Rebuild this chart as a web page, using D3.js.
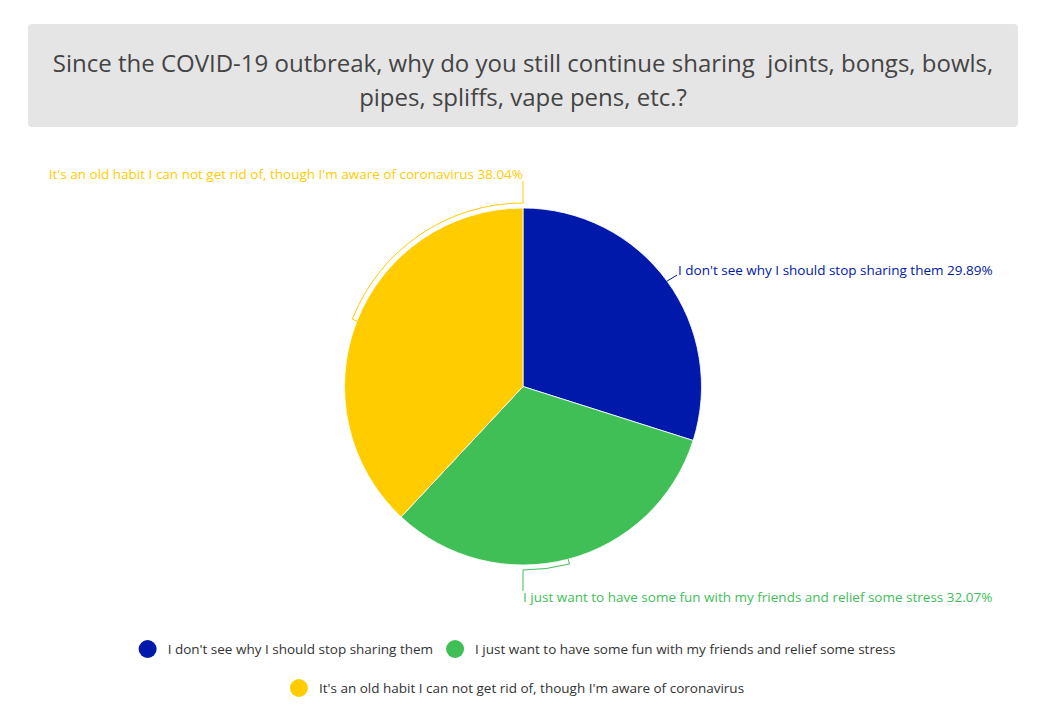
<!DOCTYPE html>
<html><head><meta charset="utf-8">
<script src="https://cdn.jsdelivr.net/npm/d3@7"></script>
<style>
html,body{margin:0;padding:0;background:#fff;}
svg{display:block;font-family:"Open Sans",sans-serif;}
</style></head>
<body>
<svg id="chart" width="1046" height="725"></svg>
<script>
const titleLines = ["Since the COVID-19 outbreak, why do you still continue sharing\u00a0 joints, bongs, bowls,", "pipes, spliffs, vape pens, etc.?"];
const categories = ["I don't see why I should stop sharing them", "I just want to have some fun with my friends and relief some stress", "It's an old habit I can not get rid of, though I'm aware of coronavirus"];
const values = [29.89, 32.07, 38.04];
const colors = ["#0019aa", "#41bf57", "#ffcc00"];

const svg = d3.select("#chart");

// title box
svg.append("rect").attr("x", 28).attr("y", 24).attr("width", 990).attr("height", 103)
  .attr("rx", 4).attr("fill", "#e5e5e5");
svg.selectAll("text.title").data(titleLines).join("text").attr("class", "title")
  .attr("x", 523).attr("y", (d, i) => 72 + i * 33.5).attr("text-anchor", "middle")
  .attr("font-size", 24).attr("fill", "#444").text(d => d);

const cx = 523, cy = 386.5, R = 178.5, Rc = 183.5;
const data = categories.map((c, i) => ({ name: c, value: values[i], color: colors[i] }));
const pie = d3.pie().sort(null).value(d => d.value);
const arcs = pie(data);
const arcGen = d3.arc().innerRadius(0).outerRadius(R);
const g = svg.append("g").attr("transform", `translate(${cx},${cy})`);
g.selectAll("path.slice").data(arcs).join("path").attr("class", "slice")
  .attr("d", arcGen).attr("fill", d => d.data.color).attr("stroke", "#fff").attr("stroke-width", 0.8);

const pt = (a, r) => [r * Math.sin(a), -r * Math.cos(a)];
const fmt = d3.format(".2f");

arcs.forEach((d, i) => {
  const mid = (d.startAngle + d.endAngle) / 2;
  const p = d3.path();
  let tx, ty, anchor;
  const deg = mid * 180 / Math.PI;
  if (deg > 20 && deg < 135) {
    const a = pt(mid, R);
    p.moveTo(a[0], a[1]);
    p.lineTo(a[0] + 10, a[1] - 6);
    tx = a[0] + 11; ty = a[1] - 6; anchor = "start";
  } else {
    const target = deg < 225 ? Math.PI : 2 * Math.PI;
    const a = pt(mid, R), b = pt(mid, Rc);
    p.moveTo(a[0], a[1]);
    p.lineTo(b[0], b[1]);
    p.arc(0, 0, Rc, mid - Math.PI / 2, target - Math.PI / 2, false);
    const e = pt(target, Rc);
    if (target === Math.PI) {
      p.lineTo(e[0], e[1] + 21);
      tx = e[0]; ty = e[1] + 32; anchor = "start";
    } else {
      p.lineTo(e[0], e[1] - 22);
      tx = e[0]; ty = e[1] - 24; anchor = "end";
    }
  }
  g.append("path").attr("d", p.toString()).attr("fill", "none")
    .attr("stroke", d.data.color).attr("stroke-width", 1);
  g.append("text").attr("x", tx).attr("y", ty).attr("text-anchor", anchor)
    .attr("font-size", 13.5).attr("fill", d.data.color)
    .text(d.data.name + " " + fmt(d.data.value) + "%");
});

// legend
const leg = svg.append("g");
const items = data.map(d => {
  const t = leg.append("text").attr("font-size", 13.5).attr("fill", "#333").text(d.name);
  return { d, t, w: 29 + t.node().getComputedTextLength() };
});
const maxW = 780, gap = 13;
const rows = [];
let cur = [], cw = 0;
items.forEach(it => {
  const add = cur.length ? gap + it.w : it.w;
  if (cur.length && cw + add > maxW) { rows.push({ items: cur, w: cw }); cur = [it]; cw = it.w; }
  else { cur.push(it); cw += add; }
});
if (cur.length) rows.push({ items: cur, w: cw });
rows.forEach((row, ri) => {
  let x = 517 - row.w / 2;
  const y = 649 + ri * 39;
  row.items.forEach(it => {
    leg.append("circle").attr("cx", x + 9).attr("cy", y).attr("r", 9).attr("fill", it.d.color);
    it.t.attr("x", x + 29).attr("y", y + 4.5);
    x += it.w + gap;
  });
});
</script>
</body></html>
